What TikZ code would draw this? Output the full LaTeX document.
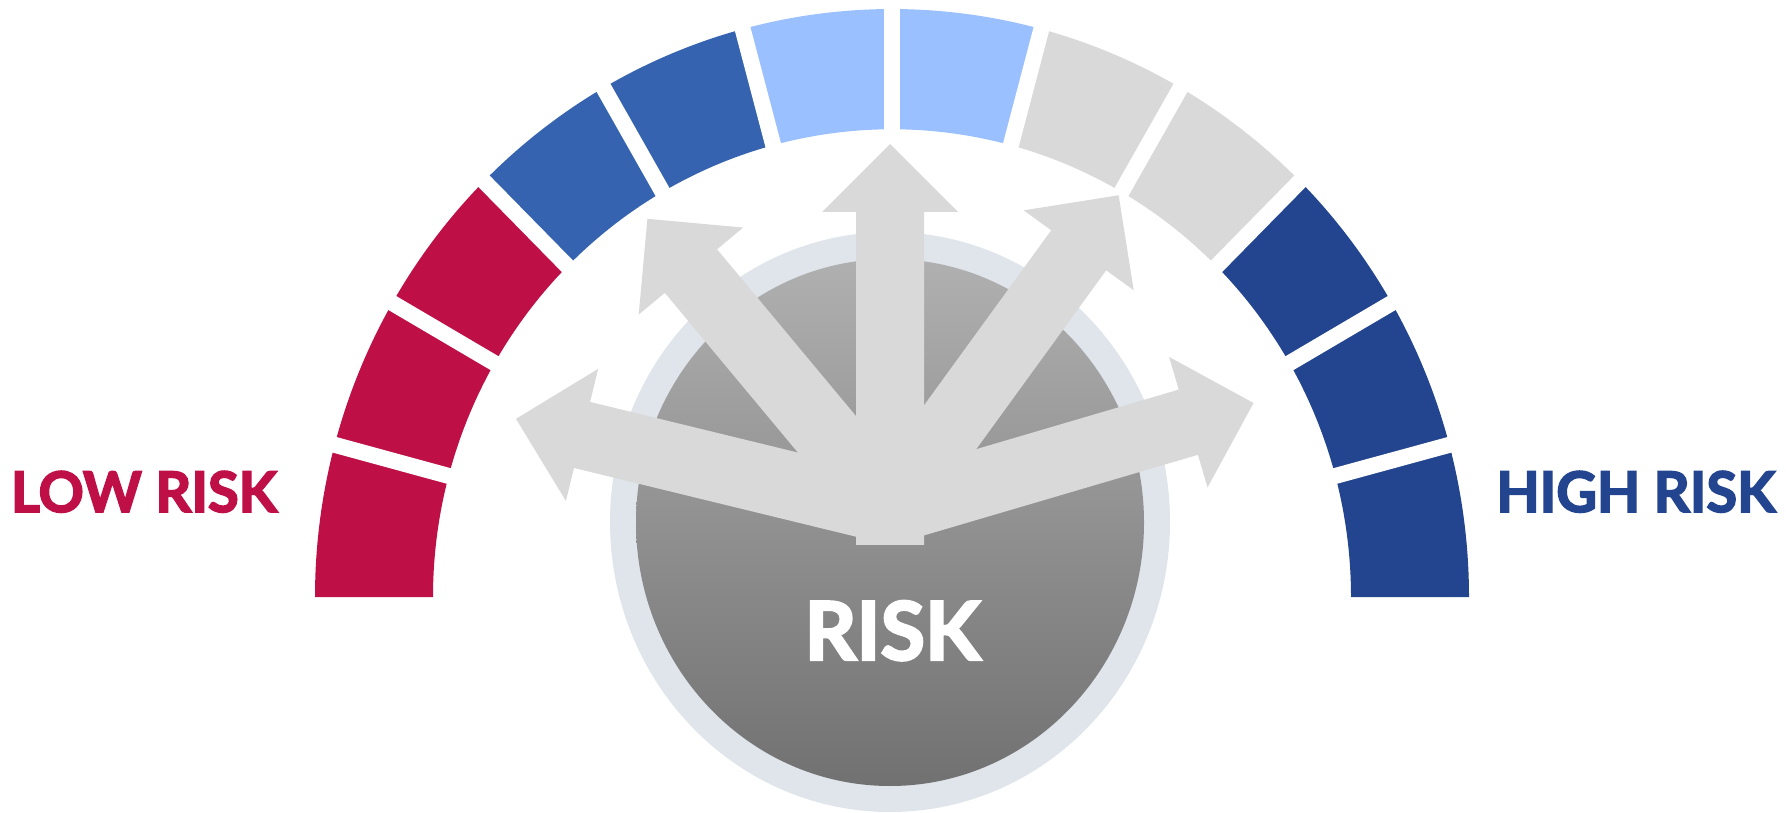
\documentclass[tikz,border=0pt]{standalone}
\usepackage{fontspec}
\newfontfamily\lato{Lato}[BoldFeatures={FakeBold=3}]
\definecolor{gRed}{HTML}{BE1046}
\definecolor{gBlue}{HTML}{3563AF}
\definecolor{gLight}{HTML}{9BC0FF}
\definecolor{gGray}{HTML}{D9D9D9}
\definecolor{gDark}{HTML}{23448F}
\definecolor{arrowG}{HTML}{D9D9D9}
\definecolor{ringC}{HTML}{DFE5EB}
\definecolor{dialTop}{HTML}{B0B0B0}
\definecolor{dialBot}{HTML}{717171}
\tikzset{
  gapline/.style={white, line width=16pt},
  riskarrowstyle/.style={fill=arrowG},
  labelstyle/.style={anchor=base, inner sep=0pt, font=\lato\bfseries\fontsize{56}{60}\selectfont}
}
\newcommand\riskarrow[3]{%
  \fill[riskarrowstyle, shift={(890,302)}, rotate=#1]
    (#3,-34) -- ({#2-68},-34) -- ({#2-68},-68) -- (#2,0) -- ({#2-68},68) -- ({#2-68},34) -- (#3,34) -- cycle;}
\begin{document}
\begin{tikzpicture}[x=1pt,y=1pt]
\useasboundingbox (0,0) rectangle (1786,812);
% gauge segments
\begin{scope}[shift={(892,215)}, yscale=1.019]
  \foreach \i/\c in {0/gDark,1/gDark,2/gDark,3/gGray,4/gGray,5/gLight,6/gLight,7/gBlue,8/gBlue,9/gRed,10/gRed,11/gRed}{
    \pgfmathsetmacro\a{15*\i}
    \pgfmathsetmacro\b{15*\i+15}
    \fill[\c] (\a:459) -- (\a:577) arc[start angle=\a, end angle=\b, radius=577] -- (\b:459) arc[start angle=\b, end angle=\a, radius=459] -- cycle;
  }
  \foreach \k in {1,...,11}{
    \pgfmathsetmacro\g{15*\k}
    \draw[gapline] (\g:440) -- (\g:600);
  }
\end{scope}
% central dial
\fill[ringC] (890,290) ellipse [x radius=280, y radius=290];
\shade[top color=dialTop, bottom color=dialBot] (890,289.5) ellipse [x radius=254, y radius=263.5];
% arrows
\riskarrow{166.3}{385}{0}
\riskarrow{129.8}{379}{0}
\riskarrow{90}{366}{-35}
\riskarrow{54}{389}{0}
\riskarrow{16.4}{379}{0}
% labels
\node[labelstyle, text=gRed] (low) at (144,300) {LOW RISK};
\node[labelstyle, text=gDark] (high) at (1636,300) {HIGH RISK};
\node[labelstyle, text=white, font=\lato\bfseries\fontsize{81}{90}\selectfont] (risk) at (892.5,152) {RISK};
\end{tikzpicture}
\end{document}
